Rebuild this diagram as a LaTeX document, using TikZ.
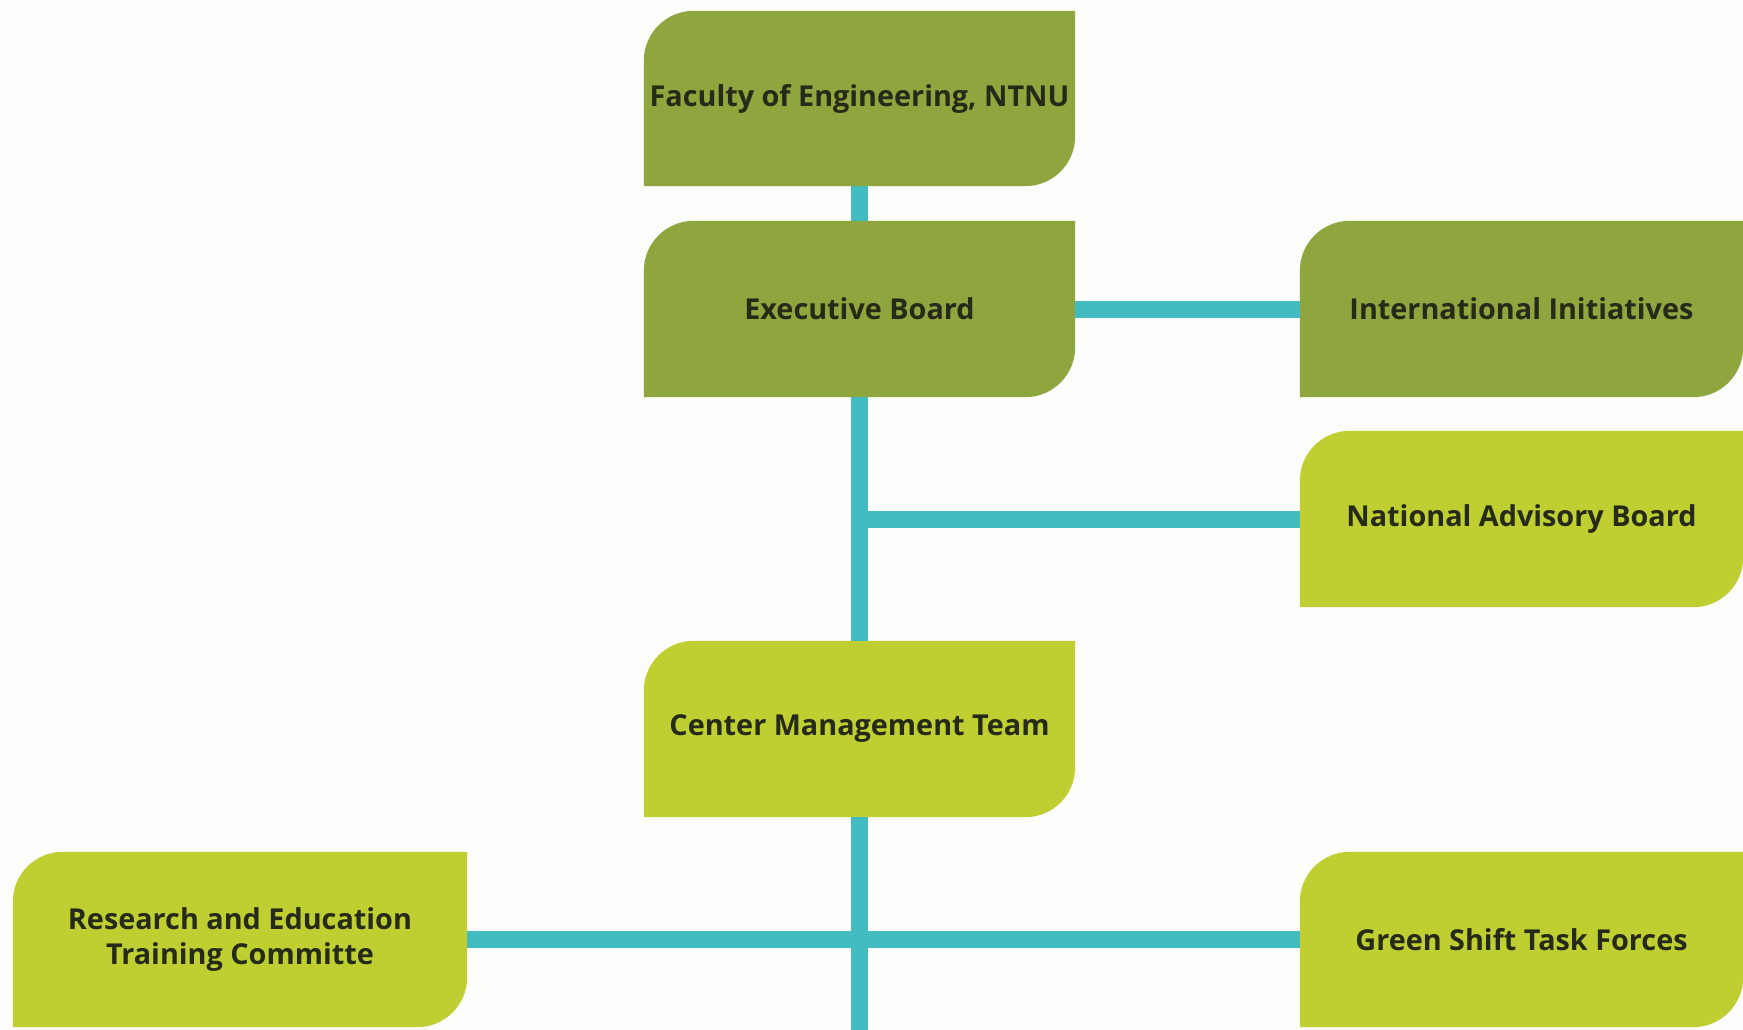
\documentclass[tikz,border=0pt]{standalone}
\usepackage{fontspec}
\setmainfont{Open Sans}
\usetikzlibrary{calc,backgrounds}
\definecolor{darkleaf}{HTML}{8FA63E}
\definecolor{lightleaf}{HTML}{BFCF32}
\definecolor{teal}{HTML}{43BCC1}
\definecolor{ink}{HTML}{262A18}
\definecolor{paper}{HTML}{FDFDFB}
\tikzset{
  orgbox/.style={inner sep=0pt, text=ink, font=\fontsize{28.8}{34.5}\selectfont\bfseries, align=center},
  link/.style={draw=teal, line width=17pt},
}
% fill a leaf-shaped box behind node #1 with colour #2
\newcommand{\leafshape}[2]{%
  \begin{scope}[on background layer]
  \fill[#2] (#1.south west) -- ($(#1.north west)+(0,50)$)
    .. controls ($(#1.north west)+(0,22.4)$) and ($(#1.north west)+(22.4,0)$) .. ($(#1.north west)+(50,0)$)
    -- (#1.north east) -- ($(#1.south east)+(0,-50)$)
    .. controls ($(#1.south east)+(0,-22.4)$) and ($(#1.south east)+(-22.4,0)$) .. ($(#1.south east)+(-50,0)$)
    -- cycle;
  \end{scope}}
\begin{document}
\begin{tikzpicture}[x=1pt,y=-1pt]
\begin{scope}[on background layer]
\fill[paper] (0,0) rectangle (1743,1030);
\end{scope}
\useasboundingbox (0,0) rectangle (1743,1030);

\node[orgbox, minimum width=431pt, minimum height=175pt] (fac) at (859.5,98.5) {Faculty of Engineering, NTNU};
\node[orgbox, minimum width=431pt, minimum height=176pt] (exec) at (859.5,309) {Executive Board};
\node[orgbox, minimum width=431pt, minimum height=176pt] (cmt) at (859.5,729) {Center Management Team};
\node[orgbox, minimum width=443pt, minimum height=176pt] (intl) at (1521.5,309) {International Initiatives};
\node[orgbox, minimum width=443pt, minimum height=176pt] (nab) at (1521.5,519) {National Advisory Board};
\node[orgbox, minimum width=443pt, minimum height=175pt] (gst) at (1521.5,939.5) {Green Shift Task Forces};
\node[orgbox, minimum width=454pt, minimum height=175pt] (rec) at (240,939.5) {Research and Education\\Training Committe};

\leafshape{fac}{darkleaf}
\leafshape{exec}{darkleaf}
\leafshape{intl}{darkleaf}
\leafshape{nab}{lightleaf}
\leafshape{cmt}{lightleaf}
\leafshape{rec}{lightleaf}
\leafshape{gst}{lightleaf}

\coordinate (jn) at (859.5,519);
\coordinate (bottom) at (859.5,1030);

\draw[link] (fac.south) -- (exec.north);
\draw[link] (exec.east) -- (intl.west);
\draw[link] (exec.south) -- (cmt.north);
\draw[link] (jn) -- (nab.west);
\draw[link] (cmt.south) -- (bottom);
\draw[link] (rec.east) -- (gst.west);
\end{tikzpicture}
\end{document}
